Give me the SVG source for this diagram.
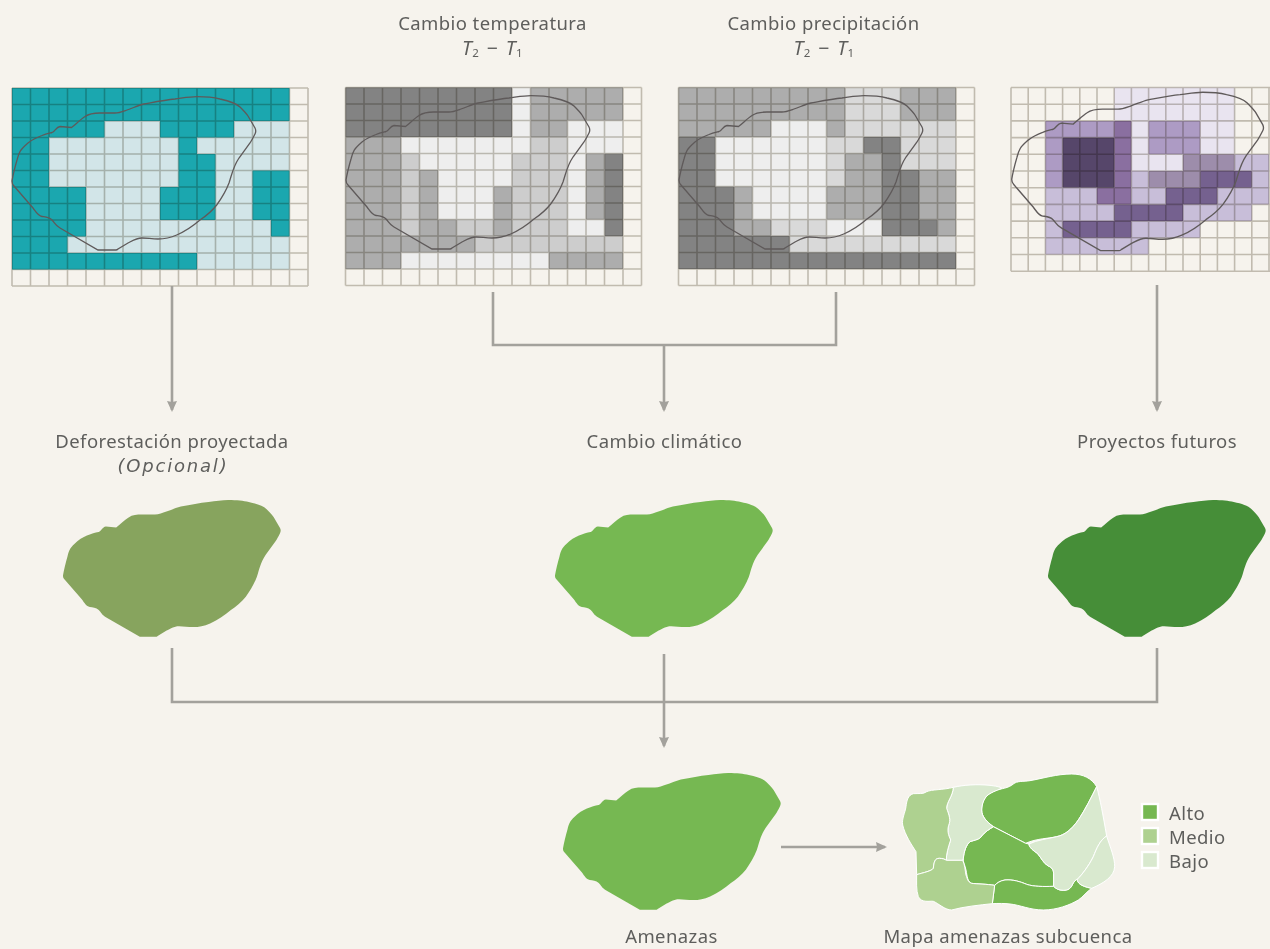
<svg xmlns="http://www.w3.org/2000/svg" xmlns:xlink="http://www.w3.org/1999/xlink" width="1270" height="949" viewBox="0 0 1270 949">
<style>
text{font-family:"Noto Sans","Open Sans","Liberation Sans",sans-serif;font-size:18.500px;fill:#5e5e5c;letter-spacing:.42px}
.c{text-anchor:middle}
.i{font-style:italic}
.o{font-family:"DejaVu Sans","Noto Sans",sans-serif;font-style:oblique;font-size:18px;letter-spacing:1.800px}
.f{font-size:19.500px;word-spacing:2px}
.s{font-size:11.500px}
.outline{fill:none;stroke:#5f5a5a;stroke-width:1.3}
.gl{fill:none;stroke:#c8c5bd;stroke-width:1.6;mix-blend-mode:multiply}
.cn{fill:none;stroke:#a3a19c;stroke-width:2.600}
.alto{fill:#76b852}.medio{fill:#aed190}.bajo{fill:#d9e9cf}
.sub path{stroke:#fff;stroke-width:3;stroke-linejoin:round}
.lg{stroke:#fff;stroke-width:2.4}
.g1a{fill:#d2e5e8}.g1b{fill:#1ba7af}
.d{fill:#838383}.m{fill:#adadad}.w{fill:#eeeeee}.k{fill:#cdcdcd}.l{fill:#d9d9d9}
</style>
<defs>
<path id="shape" d="M12 181C13 175 15 167 17 160C19 152 20 150 28 143C33 139 38 137 42 135.500C46 133.500 50 133 52 132.500C55 131.500 56 127 60 126.500L71.500 127.500C76 124 81 119 85 116.500C90 113 95 113 100 113L115 113C119 113 124 111 127 110C133 108 138 105.500 144 104C155 102 165 100 175 99C183 98 190 96.700 197 96.700C207 96.700 214 97.500 220 99C229 101 236 103 240 107C243 110 246 113 248 116L255 128C256 130 256 132 255 134C253 138 252 140 250 143L239 158C233 167 232 174 229 183C226 191 221 199 216.700 205C212 211 206 216 200 220C193 226 186 231 176.700 235C170 238 164 239 158 239C152 239 147 238 142 238C136 238 132 241 128 243L118 249C117 250 116.500 250 116 250L98 250L60 228C55 225 55 223 52 220C49 217 45 217 42 216.500C38 216 36 212 33 208L14 186C12 184 12 183 12 181Z"/>
<path id="grid16" d="M0 0H296M0 16.500H296M0 33H296M0 49.500H296M0 66H296M0 82.500H296M0 99H296M0 115.500H296M0 132H296M0 148.500H296M0 165H296M0 181.500H296M0 198H296M0 0V198M18.500 0V198M37 0V198M55.500 0V198M74 0V198M92.500 0V198M111 0V198M129.500 0V198M148 0V198M166.500 0V198M185 0V198M203.500 0V198M222 0V198M240.500 0V198M259 0V198M277.500 0V198M296 0V198"/>
<path id="grid15" d="M0 0H275M0 16.700H275M0 33.400H275M0 50.100H275M0 66.800H275M0 83.500H275M0 100.200H275M0 116.900H275M0 133.600H275M0 150.300H275M0 167H275M0 183.700H275M0 0V183.700M17.200 0V183.700M34.400 0V183.700M51.600 0V183.700M68.800 0V183.700M86 0V183.700M103.200 0V183.700M120.400 0V183.700M137.600 0V183.700M154.800 0V183.700M172 0V183.700M189.200 0V183.700M206.400 0V183.700M223.600 0V183.700M240.800 0V183.700M258 0V183.700"/>
<marker id="ah" markerUnits="userSpaceOnUse" markerWidth="12" markerHeight="11" refX="9" refY="5.500" orient="auto"><path d="M0 .5L11 5.500L0 10.500L1 5.500Z" fill="#a3a19c"/></marker>
</defs>
<rect width="1270" height="949" fill="#f6f3ed"/>

<g id="grid-deforestacion">
<g transform="translate(12 88) scale(18.500 16.500)">
<path class="g1a" d="M0 0h15v11h-15z"/>
<path class="g1b" d="M0 0h15v2h-15zM0 2h5v1h-5zM8 2h4v1h-4zM0 3h2v3h-2zM9 3h1v1h-1zM9 4h2v2h-2zM13 5h2v3h-2zM0 6h4v3h-4zM8 6h3v2h-3zM14 8h1v1h-1zM0 9h3v1h-3zM0 10h10v1h-10z"/>
</g>
<use href="#grid16" class="gl" x="12" y="88"/>
<use href="#shape" class="outline"/>
</g>

<g id="grid-temperatura">
<g transform="translate(345.500 87.500) scale(18.500 16.500)">
<path class="k" d="M0 0h15v11h-15z"/>
<path class="d" d="M0 0h9v3h-9zM14 4h1v5h-1z"/>
<path class="m" d="M10 0h5v2h-5zM10 2h2v1h-2zM0 3h3v8h-3zM13 4h1v4h-1zM4 5h1v4h-1zM5 8h1v1h-1zM8 6h1v3h-1zM3 9h4v1h-4zM11 10h4v1h-4z"/>
<path class="w" d="M9 0h1v3h-1zM12 2h3v2h-3zM3 3h7v1h-7zM4 4h5v1h-5zM5 5h4v1h-4zM5 6h3v2h-3zM12 4h1v5h-1zM13 8h1v1h-1zM3 10h8v1h-8z"/>
</g>
<use href="#grid16" class="gl" x="345.500" y="87.500"/>
<use href="#shape" class="outline" x="334" y="-1"/>
</g>

<g id="grid-precipitacion">
<g transform="translate(678.500 87.500) scale(18.500 16.500)">
<path class="l" d="M0 0h15v11h-15z"/>
<path class="d" d="M0 3h2v3h-2zM0 6h3v3h-3zM0 9h6v1h-6zM0 10h15v1h-15zM10 3h2v1h-2zM11 4h1v1h-1zM11 5h2v3h-2zM11 8h3v1h-3z"/>
<path class="m" d="M0 0h9v2h-9zM12 0h3v2h-3zM0 2h5v1h-5zM8 2h1v1h-1zM9 4h2v2h-2zM8 6h3v2h-3zM3 6h1v3h-1zM4 8h1v1h-1zM13 5h2v3h-2zM14 8h1v1h-1z"/>
<path class="w" d="M5 2h3v1h-3zM2 3h6v3h-6zM4 6h4v2h-4zM8 8h3v1h-3z"/>
</g>
<use href="#grid16" class="gl" x="678.500" y="87.500"/>
<use href="#shape" class="outline" x="667" y="-1"/>
</g>

<g id="grid-proyectos">
<g transform="translate(1011 87.500) scale(17.200 16.700)">
<path fill="#e9e4f0" d="M6 0h7v2h-7zM7 2h1v3h-1zM11 2h2v2h-2zM8 4h2v1h-2z"/>
<path fill="#ad9bc4" d="M2 2h4v1h-4zM2 3h1v3h-1zM8 2h3v2h-3z"/>
<path fill="#8a6fa0" d="M6 2h1v4h-1zM5 6h2v1h-2z"/>
<path fill="#56466a" d="M3 3h3v3h-3z"/>
<path fill="#9d8dab" d="M10 4h3v1h-3zM8 5h3v1h-3z"/>
<path fill="#c8bed9" d="M13 4h2v1h-2zM7 5h1v1h-1zM14 5h1v1h-1zM2 6h3v1h-3zM7 6h2v1h-2zM12 6h3v1h-3zM2 7h4v1h-4zM10 7h4v1h-4zM2 8h1v1h-1zM7 8h4v1h-4zM2 9h6v1h-6z"/>
<path fill="#75618f" d="M11 5h3v1h-3zM9 6h3v1h-3zM6 7h4v1h-4zM3 8h4v1h-4z"/>
</g>
<use href="#grid15" class="gl" x="1011" y="87.500"/>
<use href="#shape" class="outline" transform="translate(999.300 -7.600) scale(1.033)"/>
</g>

<g id="connectors">
<path class="cn" d="M172 286V410" marker-end="url(#ah)"/>
<path class="cn" d="M493 292V345H836V292"/>
<path class="cn" d="M664 345V410" marker-end="url(#ah)"/>
<path class="cn" d="M1157 285V410" marker-end="url(#ah)"/>
<path class="cn" d="M172 648V702H1157V648"/>
<path class="cn" d="M664 654V746" marker-end="url(#ah)"/>
<path class="cn" d="M781 847H885" marker-end="url(#ah)"/>
</g>

<g id="label-temperatura">
<text class="c" x="492.500" y="30">Cambio temperatura</text>
<text class="c f" x="492.500" y="55"><tspan class="i">T</tspan><tspan class="s" dy="2">2</tspan><tspan dy="-2"> − </tspan><tspan class="i">T</tspan><tspan class="s" dy="2">1</tspan></text>
</g>
<g id="label-precipitacion">
<text class="c" x="823.500" y="30">Cambio precipitación</text>
<text class="c f" x="824" y="55"><tspan class="i">T</tspan><tspan class="s" dy="2">2</tspan><tspan dy="-2"> − </tspan><tspan class="i">T</tspan><tspan class="s" dy="2">1</tspan></text>
</g>

<g id="deforestacion">
<text class="c" x="172" y="448">Deforestación proyectada</text>
<text class="c o" x="173" y="472">(Opcional)</text>
<use href="#shape" fill="#87a45e" transform="translate(52.300 413.600) scale(.893)"/>
</g>
<g id="cambio-climatico">
<text class="c" x="664.500" y="448">Cambio climático</text>
<use href="#shape" fill="#76b852" transform="translate(544.300 413.600) scale(.893)"/>
</g>
<g id="proyectos-futuros">
<text class="c" x="1157" y="448">Proyectos futuros</text>
<use href="#shape" fill="#468e38" transform="translate(1037.300 413.600) scale(.893)"/>
</g>
<g id="amenazas">
<use href="#shape" fill="#76b852" transform="translate(552.300 686.600) scale(.893)"/>
<text class="c" x="671.500" y="943">Amenazas</text>
</g>
<g id="mapa-subcuenca">
<g class="sub" transform="translate(880 760) scale(.33333)">
<path class="alto" d="M305 150C305 125 315 105 345 92C365 85 385 85 400 72C412 62 430 65 450 62C490 55 530 42 575 42C610 42 635 55 650 80C635 110 615 150 595 180C575 208 555 225 530 230C505 236 470 235 437 250L340 200C320 185 305 170 305 150Z"/>
<path class="alto" d="M340 200L437 250L447 252C447 262 460 272 472 280C485 295 490 310 505 318C517 323 521 330 521 345L521 379C490 380 460 380 440 373C420 365 400 358 375 360C360 362 350 370 344 376C320 372 290 372 275 370C262 365 262 350 258 330C255 315 248 305 250 295C252 275 258 255 270 245C285 240 300 238 305 228C315 215 328 208 340 200Z"/>
<path class="alto" d="M344 376C350 370 360 362 375 360C400 358 420 365 440 373C460 380 490 380 521 379C527 385 535 391 550 391C565 391 573 385 578 372C582 365 588 358 592 358C592 368 600 378 635 385C620 395 610 410 595 420C570 435 530 450 490 450C450 450 420 435 390 432C375 430 355 430 337 431Z"/>
<path class="bajo" d="M447 252C470 240 505 236 530 230C555 225 575 208 595 180C615 150 635 110 650 80C660 115 670 170 680 228C660 240 650 265 640 290C625 320 605 345 592 358C588 358 582 365 578 372C573 385 565 391 550 391C535 391 527 385 521 379L521 345C521 330 517 323 505 318C490 310 485 295 472 280C460 272 447 262 447 252Z"/>
<path class="bajo" d="M680 228C690 260 705 295 704 320C703 350 670 370 635 385C600 378 592 368 592 358C605 345 625 320 640 290C650 265 660 240 680 228Z"/>
<path class="bajo" d="M220 82C250 75 290 72 330 76C345 78 360 80 365 85C350 92 330 98 320 108C305 125 305 150 305 150C305 170 320 185 340 200C328 208 315 215 305 228C300 238 285 240 270 245C258 255 252 275 250 295L248 301L199 301C198 285 205 260 212 240C205 225 200 210 208 190C212 175 205 160 200 145C200 125 218 110 220 82Z"/>
<path class="medio" d="M220 82C218 110 200 125 200 145C205 160 212 175 208 190C200 210 205 225 212 240C205 260 198 285 199 301C195 298 188 295 178 295C165 295 162 305 160 325C155 333 130 338 110 344L108 275C95 255 75 225 68 195C65 175 75 160 78 140C80 120 85 105 100 101C115 100 130 103 140 95C155 88 190 90 220 82Z"/>
<path class="medio" d="M110 344C130 338 155 333 160 325C162 305 165 295 178 295C188 295 195 298 199 301L248 301C255 315 255 330 258 345C262 355 262 365 275 370C290 372 320 372 344 376L337 431C300 435 250 440 215 450C195 450 175 430 160 424C150 422 125 430 115 410C108 390 110 365 110 344Z"/>
</g>
<text class="c" x="1008" y="943">Mapa amenazas subcuenca</text>
</g>
<g id="legend">
<rect class="alto lg" x="1142" y="804" width="16" height="16"/><text x="1169" y="820">Alto</text>
<rect class="medio lg" x="1142" y="828" width="16" height="16"/><text x="1169" y="844">Medio</text>
<rect class="bajo lg" x="1142" y="852" width="16" height="16"/><text x="1169" y="868">Bajo</text>
</g>
</svg>
